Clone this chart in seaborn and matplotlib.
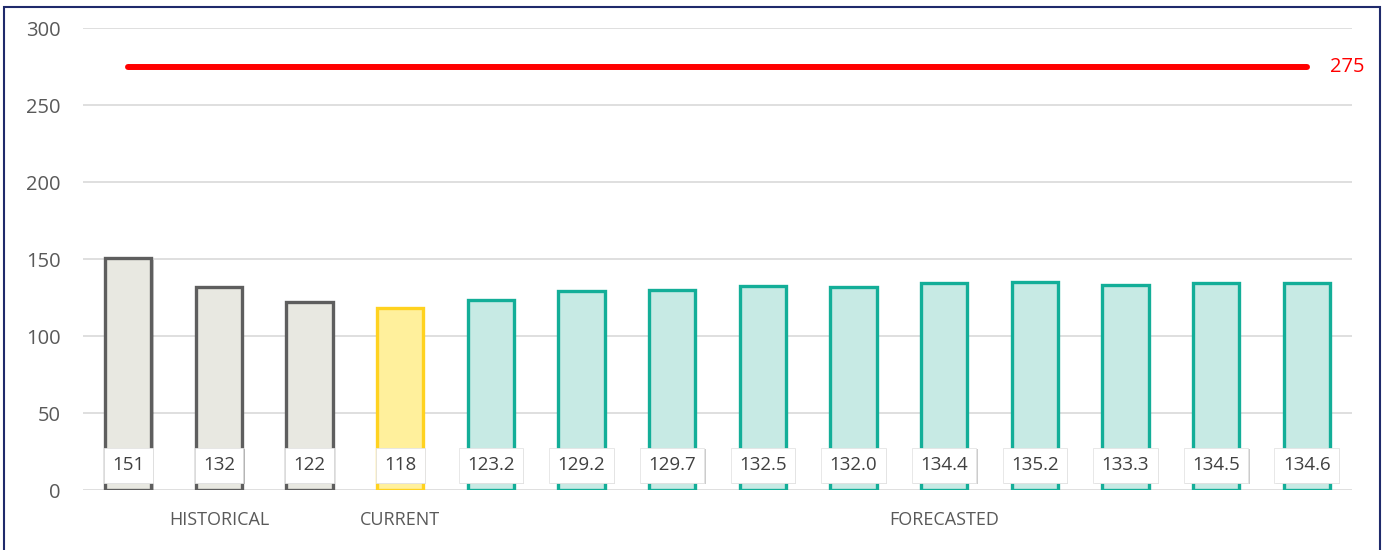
import matplotlib
matplotlib.use("Agg")
import matplotlib.pyplot as plt
import matplotlib.patheffects as pe
from matplotlib.patches import Rectangle
import pandas as pd
import seaborn as sns

# chart data
periods = ["H1", "H2", "H3", "C", "F1", "F2", "F3", "F4", "F5", "F6", "F7", "F8", "F9", "F10"]
groups = ["HISTORICAL"] * 3 + ["CURRENT"] + ["FORECASTED"] * 10
values = [151, 132, 122, 118, 123.2, 129.2, 129.7, 132.5, 132.0, 134.4, 135.2, 133.3, 134.5, 134.6]
value_labels = ["151", "132", "122", "118", "123.2", "129.2", "129.7", "132.5", "132.0",
                "134.4", "135.2", "133.3", "134.5", "134.6"]
limit = 275
group_label_pos = {"HISTORICAL": 1, "CURRENT": 3, "FORECASTED": 9}

fills = {"HISTORICAL": "#E8E8E1", "CURRENT": "#FFF09C", "FORECASTED": "#C7EAE4"}
edges = {"HISTORICAL": "#5E5E5E", "CURRENT": "#FFD21F", "FORECASTED": "#13AE98"}

df = pd.DataFrame({"period": periods, "group": groups, "value": values})

sns.set_style("white")
plt.rcParams["font.family"] = ["Open Sans", "DejaVu Sans"]

fig = plt.figure(figsize=(13.83, 5.5), dpi=100)
ax = fig.add_axes([0.060, 0.109, 0.9176, 0.840])

sns.barplot(data=df, x="period", y="value", hue="period", saturation=1,
            palette=[fills[g] for g in groups], width=0.51, legend=False, ax=ax)

for patch, g in zip(ax.patches, groups):
    patch.set_edgecolor(edges[g])
    patch.set_linewidth(2.4)
    patch.set_path_effects([pe.SimplePatchShadow(offset=(1.5, -1.5), alpha=0.2, shadow_rgbFace="#000000"),
                            pe.Normal()])

# limit line
ax.plot([0, len(periods) - 1], [limit, limit], color="#FF0000", lw=4.3,
        solid_capstyle="round", zorder=5)
ax.text(len(periods) - 1 + 0.26, limit, str(limit), color="#FF0000", fontsize=14.5,
        ha="left", va="center")

# value labels in white boxes
for i, lab in enumerate(value_labels):
    t = ax.text(i, 16, lab, ha="center", va="center", fontsize=13.5, color="#404040", zorder=6,
                bbox=dict(boxstyle="square,pad=0.45", facecolor="white", edgecolor="#E4E4E4", lw=0.6))
    t.get_bbox_patch().set_path_effects([
        pe.SimplePatchShadow(offset=(1, -1), alpha=0.2, shadow_rgbFace="#000000"),
        pe.Normal()])

# group labels below the axis
for g, pos in group_label_pos.items():
    ax.text(pos, -0.064, g, transform=ax.get_xaxis_transform(), ha="center", va="center",
            fontsize=13, color="#595959")

ax.set_ylim(0, 300)
ax.set_xlim(-0.5, len(periods) - 0.5)
ax.set_yticks(range(0, 301, 50))
ax.yaxis.grid(True, color="#D9D9D9", lw=1.2)
ax.set_axisbelow(True)
ax.set_xticks([])
ax.set_xlabel("")
ax.set_ylabel("")
ax.tick_params(axis="y", length=0, pad=16, labelsize=14.5, labelcolor="#595959")
sns.despine(ax=ax, left=True, bottom=True)

# navy frame round the figure (open at the bottom edge)
fig.patches.append(Rectangle((4 / 1383, -0.02), 1376 / 1383, 1 - 7 / 550 + 0.02, transform=fig.transFigure,
                             fill=False, edgecolor="#1F2A6B", lw=1.5))

fig.savefig("out.png", dpi=100)
